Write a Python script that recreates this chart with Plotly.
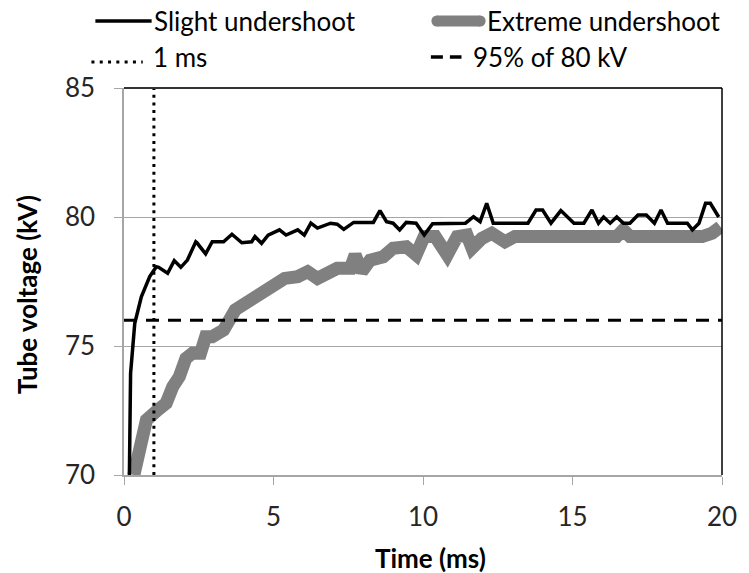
import plotly.graph_objects as go

# ---- data ----
slight_t = [0.18, 0.22, 0.36, 0.58, 0.86, 1.08, 1.16, 1.46, 1.68, 1.90, 2.12, 2.40, 2.44, 2.73, 2.95,
            3.33, 3.61, 3.94, 4.27, 4.38, 4.60, 4.82, 5.20, 5.42, 5.81, 6.03, 6.25, 6.47, 6.91, 7.13,
            7.35, 7.68, 8.34, 8.56, 8.78, 9.00, 9.22, 9.44, 9.77, 10.04, 10.32, 11.42, 11.69, 11.91,
            12.13, 12.35, 13.51, 13.78, 14.00, 14.28, 14.61, 15.05, 15.38, 15.65, 15.87, 16.04, 16.26,
            16.48, 16.70, 16.92, 17.19, 17.47, 17.74, 17.96, 18.18, 18.84, 19.01, 19.23, 19.45, 19.61,
            19.89]
slight_kv = [70.0, 73.94, 75.88, 76.91, 77.69, 78.07, 78.05, 77.82, 78.31, 78.05, 78.33, 79.04, 79.0,
             78.57, 79.04, 79.04, 79.33, 79.0, 79.04, 79.24, 78.98, 79.3, 79.5, 79.3, 79.5, 79.3, 79.76,
             79.57, 79.76, 79.72, 79.52, 79.79, 79.79, 80.25, 79.82, 79.76, 79.5, 79.79, 79.76, 79.3,
             79.74, 79.76, 80.01, 79.82, 80.53, 79.76, 79.76, 80.27, 80.27, 79.76, 80.25, 79.76, 79.76,
             80.27, 79.76, 80.0, 79.76, 80.0, 79.76, 79.76, 80.08, 80.08, 79.76, 80.27, 79.76, 79.76,
             79.5, 79.76, 80.53, 80.53, 80.0]

extreme_t = [0.33, 0.47, 0.75, 1.13, 1.41, 1.63, 1.85, 2.07, 2.29, 2.56, 2.73, 2.95, 3.33, 3.72, 4.05,
             4.49, 4.93, 5.37, 5.81, 6.14, 6.47, 6.91, 7.13, 7.57, 7.73, 7.95, 8.23, 8.67, 9.00, 9.44,
             9.77, 10.04, 10.41, 10.81, 11.14, 11.47, 11.64, 11.97, 12.30, 12.74, 13.07, 16.48, 16.70,
             16.92, 19.34, 19.67, 19.95]
extreme_kv = [70.0, 70.71, 72.13, 72.52, 72.78, 73.42, 73.81, 74.52, 74.72, 74.72, 75.36, 75.36, 75.62,
              76.40, 76.65, 76.85, 77.17, 77.62, 77.69, 77.88, 77.62, 77.95, 78.01, 78.01, 78.53, 77.88,
              78.33, 78.46, 78.79, 78.85, 78.53, 79.24, 79.24, 78.53, 79.24, 79.3, 78.79, 79.17, 79.37,
              79.04, 79.24, 79.24, 79.5, 79.24, 79.24, 79.37, 79.62]

marker_t = [1, 1]
marker_kv = [70, 85]
target_t = [0, 20]
target_kv = [76, 76]

x_ticks = [0, 5, 10, 15, 20]
y_ticks = [70, 75, 80, 85]

legend_names = ["Slight undershoot", "Extreme undershoot", "1 ms", "95% of 80 kV"]

# ---- styling ----
FONT = "Lato"
FS = 26
GRID = "#a6a6a6"
TXT = "#262626"
GRAY = "#808080"
DOT = "3px,4.7px"
DASH = "13px,9px"

W_FIG, H_FIG = 749, 573
L, R, T, B = 124, 730, 88, 475          # plot-area edges in pixels
PW, PH = R - L, B - T


def px_x(p):
    return (p - L) / PW


def px_y(p):
    return (B - p) / PH


fig = go.Figure()
fig.add_trace(go.Scatter(x=extreme_t, y=extreme_kv, mode="lines", name=legend_names[1],
                         line=dict(color=GRAY, width=13)))
fig.add_trace(go.Scatter(x=slight_t, y=slight_kv, mode="lines", name=legend_names[0],
                         line=dict(color="black", width=3.5)))
fig.add_trace(go.Scatter(x=marker_t, y=marker_kv, mode="lines", name=legend_names[2],
                         line=dict(color="black", width=3, dash=DOT)))
fig.add_trace(go.Scatter(x=target_t, y=target_kv, mode="lines", name=legend_names[3],
                         line=dict(color="black", width=3, dash=DASH)))

fig.update_layout(
    width=W_FIG, height=H_FIG,
    margin=dict(l=L, r=W_FIG - R, t=T, b=H_FIG - B),
    paper_bgcolor="white", plot_bgcolor="white",
    font=dict(family=FONT, size=FS, color=TXT),
    showlegend=False,
    xaxis=dict(range=[0, 20], tickvals=x_ticks, showgrid=False, zeroline=False,
               showline=True, linecolor=GRID, linewidth=1.5, ticks="outside", ticklen=8,
               tickcolor=GRID, ticklabelstandoff=10),
    yaxis=dict(range=[70, 85], tickvals=y_ticks, showgrid=True, gridcolor=GRID, gridwidth=1.2,
               zeroline=False, showline=True, linecolor=GRID, linewidth=1.5, ticks="outside",
               ticklen=8, tickcolor=GRID, ticklabelstandoff=14),
)

# plot-area top and right border
fig.add_shape(type="line", xref="paper", yref="paper", x0=0, x1=1, y0=1, y1=1,
              line=dict(color="#333333", width=2))
fig.add_shape(type="line", xref="paper", yref="paper", x0=1, x1=1, y0=0, y1=1,
              line=dict(color="black", width=1.5))

# axis titles
fig.add_annotation(text="<b>Time (ms)</b>", xref="paper", yref="paper", x=px_x(435), y=px_y(558),
                   xanchor="center", yanchor="middle", showarrow=False,
                   font=dict(size=FS, color="black"))
fig.add_annotation(text="<b>Tube voltage (kV)</b>", xref="paper", yref="paper", x=px_x(26),
                   y=px_y(295), xanchor="center", yanchor="middle", textangle=-90,
                   showarrow=False, font=dict(size=FS, color="black"))

# legend (two rows, two columns) above the plot
ROW1, ROW2 = 21, 57
# Slight undershoot key
fig.add_shape(type="line", xref="paper", yref="paper", x0=px_x(95), x1=px_x(152),
              y0=px_y(ROW1), y1=px_y(ROW1), line=dict(color="black", width=3.5))
# Extreme undershoot key (thick rounded bar)
fig.add_shape(type="line", xref="paper", yref="paper", x0=px_x(441), x1=px_x(485),
              y0=px_y(ROW1), y1=px_y(ROW1), line=dict(color=GRAY, width=11))
for cx in (441, 485):
    fig.add_shape(type="circle", xref="paper", yref="paper", x0=px_x(cx - 5.5), x1=px_x(cx + 5.5),
                  y0=px_y(ROW1 + 5.5), y1=px_y(ROW1 - 5.5), fillcolor=GRAY,
                  line=dict(width=0))
# 1 ms key
fig.add_shape(type="line", xref="paper", yref="paper", x0=px_x(91), x1=px_x(143),
              y0=px_y(ROW2 + 5), y1=px_y(ROW2 + 5), line=dict(color="black", width=3, dash="3px,5.3px"))
# 95% key
fig.add_shape(type="line", xref="paper", yref="paper", x0=px_x(435), x1=px_x(466),
              y0=px_y(ROW2), y1=px_y(ROW2), line=dict(color="black", width=3.5, dash="12px,7px"))

legend_pos = [(152, ROW1), (490, ROW1), (151, ROW2), (476, ROW2)]
for name, (lx, ly) in zip(legend_names, legend_pos):
    fig.add_annotation(text=name, xref="paper", yref="paper", x=px_x(lx), y=px_y(ly),
                       xanchor="left", yanchor="middle", showarrow=False,
                       font=dict(size=FS, color="black"))

fig.write_html("out.html")
